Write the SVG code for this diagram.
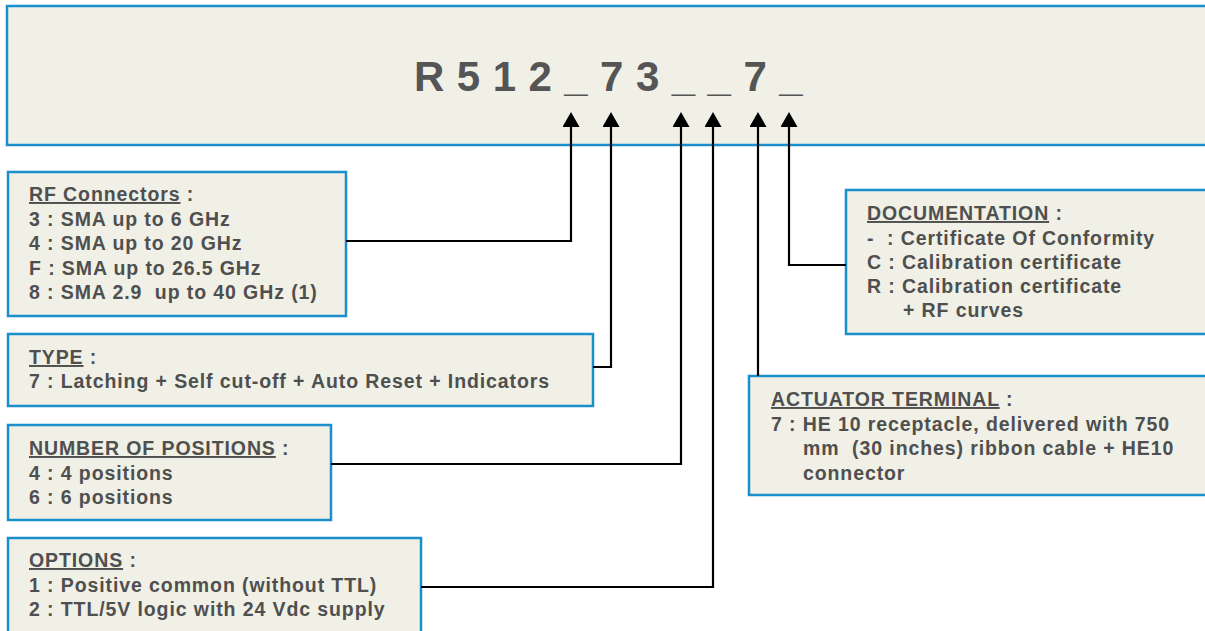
<svg xmlns="http://www.w3.org/2000/svg" width="1205" height="631" viewBox="0 0 1205 631">
<defs>
<style>
.box{fill:#f0f0e6;stroke:#1b8fcb;stroke-width:2.5}
.t{font-family:"Liberation Sans",Arial,sans-serif;font-weight:bold;font-size:19.5px;fill:#4f4f4f;letter-spacing:0.9px}
.title{font-family:"Liberation Sans",Arial,sans-serif;font-weight:bold;font-size:42px;fill:#555555;letter-spacing:0.4px}
.u{text-decoration:underline}
.c{fill:none;stroke:#000000;stroke-width:2.2}
</style>
<marker id="arr" markerUnits="userSpaceOnUse" markerWidth="16" markerHeight="17" viewBox="0 0 16 17" refX="7" refY="8.5" orient="auto">
<path d="M0,0 L15,8.5 L0,17 z" fill="#000000"/>
</marker>
</defs>
<rect width="1205" height="631" fill="#ffffff"/>
<g id="header">
<rect class="box" x="7" y="6" width="1210" height="139"/>
<text class="title" x="414" y="91">R 5 1 2 _ 7 3 _ _ 7 _</text>
</g>
<g id="rf-connectors">
<rect class="box" x="8" y="172" width="338" height="144"/>
<text class="t" x="29" y="201"><tspan class="u">RF Connectors</tspan> :</text>
<text class="t" x="29" y="225.5">3 : SMA up to 6 GHz</text>
<text class="t" x="29" y="250">4 : SMA up to 20 GHz</text>
<text class="t" x="29" y="274.5">F : SMA up to 26.5 GHz</text>
<text class="t" x="29" y="299">8 : SMA 2.9 &#160;up to 40 GHz (1)</text>
</g>
<g id="type">
<rect class="box" x="8" y="334" width="585" height="72"/>
<text class="t" x="29" y="364"><tspan class="u">TYPE</tspan> :</text>
<text class="t" x="29" y="388">7 : Latching + Self cut-off + Auto Reset + Indicators</text>
</g>
<g id="positions">
<rect class="box" x="8" y="425" width="323" height="95"/>
<text class="t" x="29" y="455"><tspan class="u">NUMBER OF POSITIONS</tspan> :</text>
<text class="t" x="29" y="480">4 : 4 positions</text>
<text class="t" x="29" y="504">6 : 6 positions</text>
</g>
<g id="options">
<rect class="box" x="8" y="538" width="413" height="110"/>
<text class="t" x="29" y="567"><tspan class="u">OPTIONS</tspan> :</text>
<text class="t" x="29" y="592">1 : Positive common (without TTL)</text>
<text class="t" x="29" y="616">2 : TTL/5V logic with 24 Vdc supply</text>
</g>
<g id="documentation">
<rect class="box" x="846" y="190" width="370" height="144"/>
<text class="t" x="867" y="220"><tspan class="u">DOCUMENTATION</tspan> :</text>
<text class="t" x="867" y="244.5">- &#160;: Certificate Of Conformity</text>
<text class="t" x="867" y="268.5">C : Calibration certificate</text>
<text class="t" x="867" y="292.5">R : Calibration certificate</text>
<text class="t" x="903" y="317">+ RF curves</text>
</g>
<g id="actuator">
<rect class="box" x="749" y="376" width="470" height="119"/>
<text class="t" x="771" y="406"><tspan class="u">ACTUATOR TERMINAL</tspan> :</text>
<text class="t" x="771" y="430.5">7 : HE 10 receptacle, delivered with 750</text>
<text class="t" x="803" y="455">mm &#160;(30 inches) ribbon cable + HE10</text>
<text class="t" x="803" y="479.5">connector</text>
</g>
<g id="connectors">
<path class="c" d="M346,241 H571 V120" marker-end="url(#arr)"/>
<path class="c" d="M593,367 H611 V120" marker-end="url(#arr)"/>
<path class="c" d="M331,464 H681 V120" marker-end="url(#arr)"/>
<path class="c" d="M421,587 H713 V120" marker-end="url(#arr)"/>
<path class="c" d="M758,376 V120" marker-end="url(#arr)"/>
<path class="c" d="M846,265 H789 V120" marker-end="url(#arr)"/>
</g>
</svg>
